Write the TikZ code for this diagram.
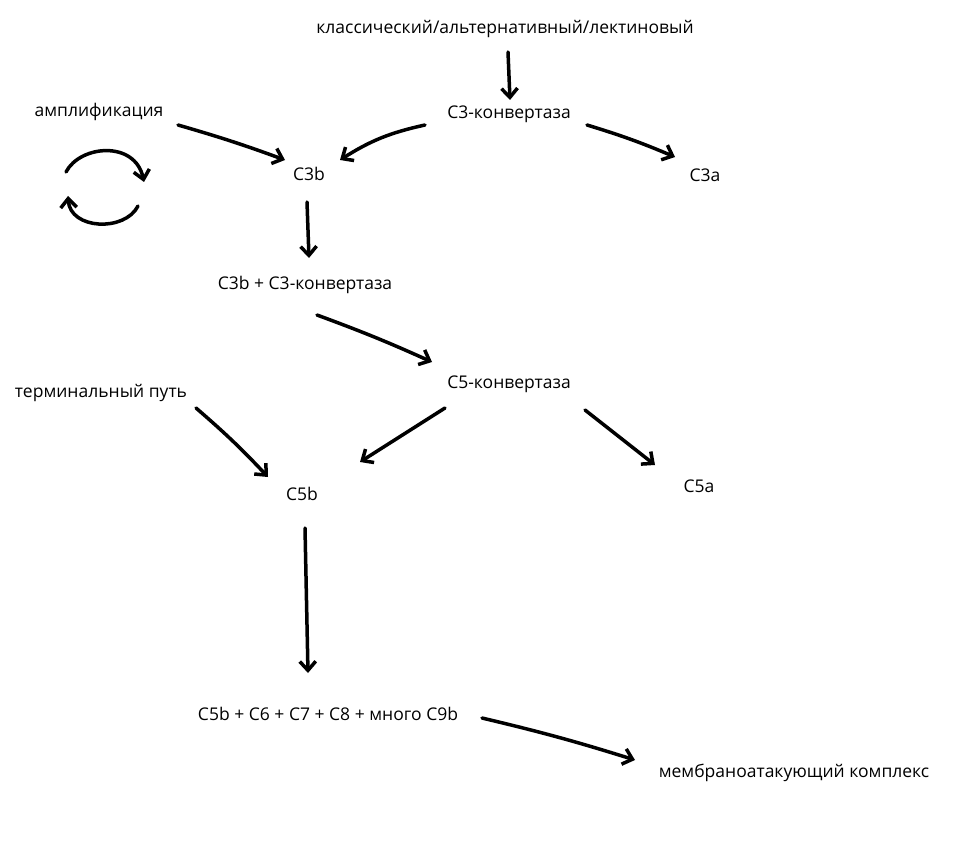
\documentclass[tikz,border=0pt]{standalone}
\usepackage{fontspec}
\setmainfont{Open Sans}
\usetikzlibrary{arrows.meta}
\begin{document}
\begin{tikzpicture}[x=1pt,y=-1pt,
  lbl/.style={inner sep=1pt,font=\fontsize{17.5}{20}\selectfont},
  arr/.style={line width=3.5pt,line cap=round,line join=round,-{Straight Barb[length=9pt,width=16pt]}}]
\useasboundingbox (0,0) rectangle (959,848);
\node[lbl] (top) at (505,29) {классический/альтернативный/лектиновый};
\node[lbl] (c3k) at (509,114) {C3-конвертаза};
\node[lbl] (amp) at (99,112) {амплификация};
\node[lbl] (c3b) at (309,174) {C3b};
\node[lbl] (c3a) at (705,175) {C3a};
\node[lbl] (c3bk) at (305,285) {C3b + C3-конвертаза};
\node[lbl] (c5k) at (509,384) {C5-конвертаза};
\node[lbl] (term) at (101,393) {терминальный путь};
\node[lbl] (c5b) at (302,494) {C5b};
\node[lbl] (c5a) at (699,486) {C5a};
\node[lbl] (mix) at (328,714) {C5b + C6 + C7 + C8 + много C9b};
\node[lbl] (mac) at (794,773) {мембраноатакующий комплекс};
\coordinate (a1) at (508,52); \coordinate (b1) at (510,100);
\coordinate (a2) at (425,125); \coordinate (b2) at (340,160);
\coordinate (a3) at (587,125); \coordinate (b3) at (675,157);
\coordinate (a4) at (178,125); \coordinate (b4) at (285,160);
\coordinate (a5) at (307,202); \coordinate (b5) at (309,258);
\coordinate (a6) at (317,315); \coordinate (b6) at (432,362);
\coordinate (a7) at (445,408); \coordinate (b7) at (360,462);
\coordinate (a8) at (585,410); \coordinate (b8) at (655,465);
\coordinate (a9) at (196,408); \coordinate (b9) at (268,477);
\coordinate (a10) at (305,528); \coordinate (b10) at (308,673);
\coordinate (a11) at (482,718); \coordinate (b11) at (635,760);
\draw[arr] (a1) -- (b1);
\draw[arr] (a2) to[bend right=10] (b2);
\draw[arr] (a3) to[bend left=3] (b3);
\draw[arr] (a4) to[bend left=2] (b4);
\draw[arr] (a5) -- (b5);
\draw[arr] (a6) to[bend left=2] (b6);
\draw[arr] (a7) -- (b7);
\draw[arr] (a8) -- (b8);
\draw[arr] (a9) to[bend left=3] (b9);
\draw[arr] (a10) -- (b10);
\draw[arr] (a11) to[bend left=2] (b11);
\coordinate (cu1) at (66,172); \coordinate (cu2) at (144,182);
\coordinate (cl1) at (138,206); \coordinate (cl2) at (68,196);
\draw[arr] (cu1) .. controls (80,145) and (135,140) .. (cu2);
\draw[arr] (cl1) .. controls (125,232) and (70,230) .. (cl2);
\end{tikzpicture}
\end{document}
